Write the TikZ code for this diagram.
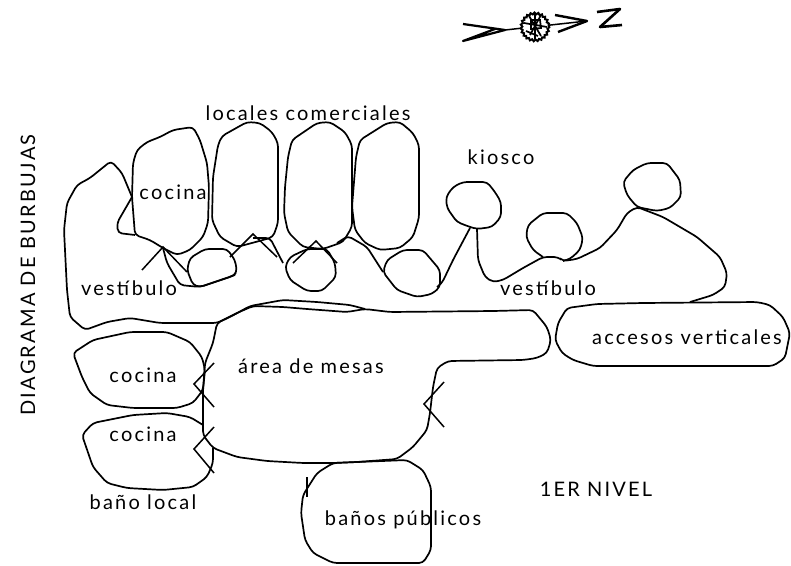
\documentclass[tikz,border=0pt]{standalone}
\usepackage{fontspec}
\setmainfont{Lato}[LetterSpace=11]
\usetikzlibrary{decorations.pathmorphing}
\tikzset{
  blob/.style={
    line width=1.7pt,
    rounded corners=4pt,
    line join=round
  },
  door/.style={
    line width=1.5pt
  },
  lbl/.style={
    font=\fontsize{20}{22}\selectfont,
    inner sep=0pt
  },
}
\tikzset{decoration={snake,amplitude=.3mm,segment length=1.3mm, post length=0mm,pre length=0mm}}
\begin{document}
\begin{tikzpicture}[x=1pt,y=-1pt]
  \useasboundingbox[fill=white] (0,0) rectangle (791,565);

  % compass
  \draw[line width=2.2pt, line join=round] (463,24) -- (505,30) -- (463,41) -- (495,29);
  \draw[line width=1.5pt] (505,30) -- (587,21);
  \draw[line width=2.4pt, line join=round] (555,15) -- (587,21) -- (558,32);
  \draw[line width=2.6pt, line join=round] (597,12) -- (620,9) -- (600,27) -- (622,25);
  \draw[line width=2pt, decorate, fill=white] (535,26) circle (13.5);
  \draw[line width=1.7pt] (529,16) -- (541,36) (541,15) -- (530,35) (524,23) -- (547,27)
     (531,20) -- (540,20) -- (541,28) -- (531,29) -- cycle (526,31) -- (538,36) (535,14) -- (535,39);

  % cocina arriba
  \draw[blob] (135,235) -- (132,197) -- (133,163) -- (137,150) -- (147,142) -- (160,137) -- (173,130)
     -- (193,127) -- (200,140) -- (207,163) -- (209,187) -- (208,223) -- (203,237) -- (190,250)
     -- (177,255) -- (163,248) -- (150,240) -- cycle;

  % vestibulo izquierdo
  \draw[blob] (132,197) -- (122,173) -- (111,161) -- (90,178) -- (77,185) -- (67,203) -- (64,230)
     -- (67,290) -- (70,317) -- (85,330) -- (107,322) -- (130,318) -- (160,323) -- (217,323)
     -- (230,317) -- (250,306) -- (283,300) -- (317,302) -- (350,305) -- (365,309);
  \draw[blob] (132,197) -- (117,223) -- (118,233) -- (135,235);
  \draw[blob] (163,248) -- (167,263) -- (180,285) -- (200,287) -- (235,275);
  \draw[blob] (253,238) -- (270,238) -- (283,263);
  \draw[blob] (337,243) -- (348,236) -- (367,247) -- (383,272);

  % locales
  \draw[blob] (218,145) -- (222,136) -- (247,122) -- (260,123) -- (272,132) -- (278,143) -- (278,223)
     -- (273,237) -- (263,240) -- (237,247) -- (220,237) -- (212,220) -- (213,177) -- cycle;
  \draw[blob] (292,140) -- (317,123) -- (330,122) -- (345,132) -- (352,145) -- (352,227) -- (343,242)
     -- (323,249) -- (303,247) -- (288,232) -- (284,213) -- (285,187) -- (288,157) -- cycle;
  \draw[blob] (360,140) -- (387,123) -- (400,122) -- (413,133) -- (419,145) -- (419,218) -- (413,237)
     -- (400,248) -- (380,250) -- (365,243) -- (355,230) -- (352,207) -- (356,157) -- cycle;

  % burbujas del patio
  \draw[blob] (187,270) -- (190,258) -- (205,249) -- (227,249) -- (235,260) -- (237,272) -- (233,276)
     -- (200,287) -- (193,285) -- cycle;
  \draw[blob] (285,267) -- (290,257) -- (307,249) -- (327,249) -- (335,263) -- (336,277) -- (322,291)
     -- (307,291) -- (290,280) -- cycle;
  \draw[blob] (383,272) -- (387,260) -- (403,250) -- (423,250) -- (440,270) -- (440,287) -- (432,294)
     -- (417,297) -- (397,290) -- cycle;
  \draw[blob] (437,287) -- (442,283) -- (453,260) -- (470,228);

  % kiosco y burbujas
  \draw[blob] (470,227) -- (457,222) -- (447,208) -- (446,197) -- (453,187) -- (463,182) -- (487,182)
     -- (495,192) -- (501,202) -- (501,217) -- (492,227) -- (477,229) -- cycle;
  \draw[blob] (543,257) -- (533,250) -- (526,237) -- (528,225) -- (543,213) -- (567,213) -- (577,223)
     -- (583,238) -- (580,250) -- (570,259) -- (563,261);
  \draw[blob] (637,207) -- (627,195) -- (623,182) -- (633,170) -- (647,163) -- (667,163) -- (680,180)
     -- (681,197) -- (670,208) -- (657,211) -- cycle;

  % vestibulo derecho
  \draw[blob] (477,229) -- (478,260) -- (485,277) -- (493,282) -- (503,280) -- (523,268) -- (543,257)
     -- (558,257) -- (563,261) -- (577,259) -- (600,248) -- (617,230) -- (627,213) -- (637,207)
     -- (663,217) -- (697,237) -- (720,257) -- (727,273) -- (725,287) -- (713,295) -- (690,302);

  % area de mesas
  \draw[blob] (217,323) -- (237,313) -- (253,306) -- (283,307) -- (307,309) -- (347,312) -- (365,309)
     -- (390,312) -- (493,311) -- (533,310) -- (547,327) -- (551,340) -- (547,353) -- (537,358)
     -- (523,360) -- (448,361) -- (437,368) -- (433,387) -- (430,413) -- (427,430) -- (413,447)
     -- (397,459) -- (357,462) -- (333,463) -- (303,463) -- (267,461) -- (237,457) -- (213,448)
     -- (203,435) -- (203,390) -- (205,363) -- (213,343) -- cycle;

  % accesos
  \draw[blob] (567,308) -- (558,323) -- (555,340) -- (562,353) -- (573,360) -- (593,366) -- (773,366)
     -- (785,358) -- (790,333) -- (783,317) -- (770,305) -- (757,302) -- (643,303) -- (597,304) -- cycle;

  % cocinas abajo
  \draw[blob] (73,353) -- (93,340) -- (130,332) -- (167,332) -- (190,342) -- (202,357) -- (205,370)
     -- (203,390) -- (193,403) -- (177,408) -- (133,408) -- (107,405) -- (90,393) -- (82,377) -- cycle;
  \draw[blob] (203,425) -- (190,417) -- (167,413) -- (133,415) -- (93,423) -- (82,435) -- (93,467)
     -- (107,483) -- (127,488) -- (163,490) -- (193,487) -- (207,477) -- (213,463) -- (213,448);

  % banos publicos
  \draw[blob] (333,463) -- (317,473) -- (303,495) -- (301,513) -- (305,540) -- (313,553) -- (333,563)
     -- (423,563) -- (431,550) -- (431,487) -- (423,470) -- (407,460) -- (357,462) -- cycle;

  % puertas
  \foreach \ax/\ay/\bx/\by/\cx/\cy in {
     142/270/163/247/187/272, 230/257/253/234/277/257, 293/263/316/241/337/263,
     214/363/194/384/214/407, 214/427/194/449/214/473, 444/382/424/404/444/427}
  {
    \draw[door] (\ax,\ay) -- (\bx,\by) -- (\cx,\cy);
  }
  \draw[door] (307,477) -- (307,497);

  \node[lbl] (locales) at (308,113) {locales comerciales};
  \node[lbl] (kiosco) at (501,157) {kiosco};
  \node[lbl] (cocinaA) at (173,192) {cocina};
  \node[lbl] (vestibuloA) at (129,288) {vestíbulo};
  \node[lbl] (vestibuloB) at (548,288) {vestíbulo};
  \node[lbl] (accesos) at (687,337) {accesos verticales};
  \node[lbl] (mesas) at (311,366) {área de mesas};
  \node[lbl] (cocinaB) at (143,375) {cocina};
  \node[lbl] (cocinaC) at (143,434) {cocina};
  \node[lbl] (banoL) at (143,502) {baño local};
  \node[lbl] (banoP) at (403,520) {baños públicos};
  \node[lbl] (nivel) at (596,489) {1ER NIVEL};
  \node[lbl, rotate=90] (titulo) at (28,275) {DIAGRAMA DE BURBUJAS};
\end{tikzpicture}
\end{document}
